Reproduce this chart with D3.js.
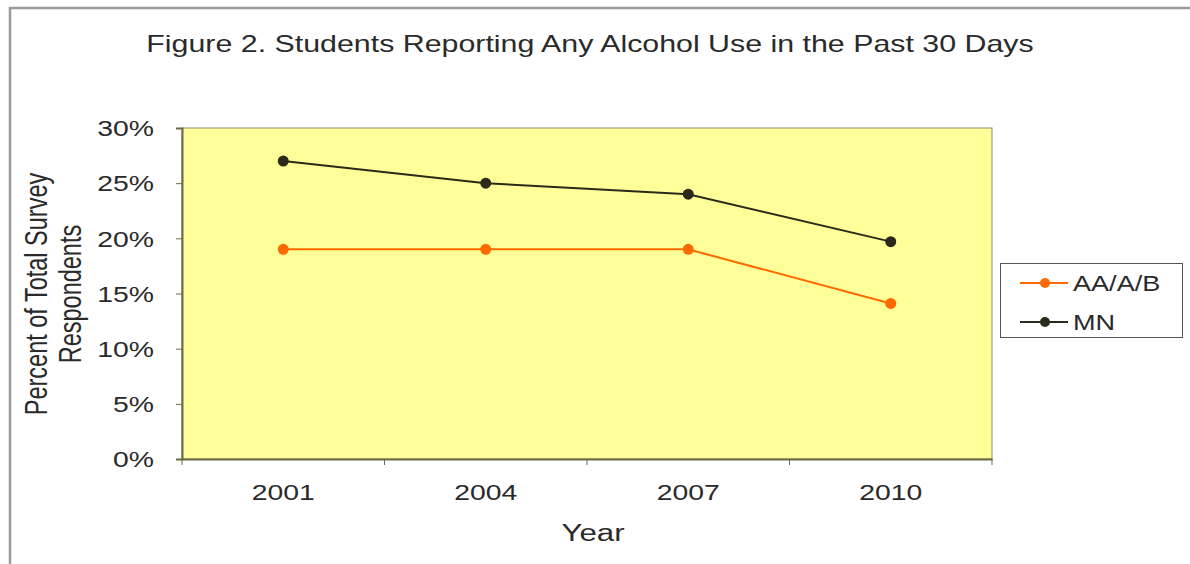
<!DOCTYPE html>
<html><head><meta charset="utf-8">
<script src="https://cdn.jsdelivr.net/npm/d3@7"></script>
<style>body{margin:0;background:#fff}svg{display:block}text{font-family:"Liberation Sans",Arial,sans-serif;fill:#2a2a2a}</style>
</head><body><svg id="c" width="1190" height="564"></svg>
<script>
const years = ["2001","2004","2007","2010"];
const seriesNames = ["AA/A/B","MN"];
const aaValues = [19, 19, 19, 14.1];
const mnValues = [27, 25, 24, 19.7];
const yTicks = [0,5,10,15,20,25,30];
const colors = ["#ff6a00","#2a2a1a"];
const SX = 1.32; // horizontal stretch of the source image's text

const svg = d3.select("#c");
svg.append("rect").attr("x",10).attr("y",8).attr("width",1200).attr("height",600)
  .attr("fill","#fff").attr("stroke","#9a9a9a").attr("stroke-width",2.5);

const L=182,R=992,T=128,B=459;
const x = d3.scaleBand().domain(years).range([L,R]);
const y = d3.scaleLinear().domain([0,30]).range([B,T]);

svg.append("rect").attr("x",L).attr("y",T).attr("width",R-L).attr("height",B-T)
  .attr("fill","#ffff99").attr("stroke","#8a8a70").attr("stroke-width",1);

// y axis
const ya = svg.append("g").attr("transform",`translate(${L},0)`)
  .call(d3.axisLeft(y).tickValues(yTicks).tickFormat(d=>d+"%").tickSize(6));
ya.select(".domain").attr("stroke","#6b6b45").attr("stroke-width",2);
ya.selectAll(".tick line").attr("stroke","#6b6b45");
ya.selectAll(".tick text").style("font-size","21.5px").attr("fill","#2a2a2a")
  .attr("x",-28/SX).attr("dy","0.36em").attr("transform",`scale(${SX},1)`);

// x axis
const xa = svg.append("g").attr("transform",`translate(0,${B})`)
  .call(d3.axisBottom(x).tickSize(0).tickPadding(26));
xa.select(".domain").attr("stroke","#6b6b45").attr("stroke-width",2);
xa.selectAll(".tick text").style("font-size","21.5px").attr("fill","#2a2a2a")
  .attr("transform",`scale(${SX},1)`);
const bounds = years.map(d=>x(d)).concat([R]);
xa.selectAll(".bt").data(bounds).enter().append("line").attr("class","bt")
  .attr("x1",d=>d).attr("x2",d=>d).attr("y1",0).attr("y2",6).attr("stroke","#6b6b45");

const cx = d=>x(d)+x.bandwidth()/2;
const data = [aaValues, mnValues];
data.forEach((vals,i)=>{
  const pts = years.map((yr,j)=>[cx(yr),y(vals[j])]);
  svg.append("path").attr("d",d3.line()(pts)).attr("fill","none")
    .attr("stroke",colors[i]).attr("stroke-width",2);
  svg.selectAll(".p"+i).data(pts).enter().append("circle")
    .attr("cx",d=>d[0]).attr("cy",d=>d[1]).attr("r",5.5).attr("fill",colors[i]);
});

// title
svg.append("text").attr("transform",`translate(590,52) scale(${SX},1)`).attr("text-anchor","middle")
  .style("font-size","23px").text("Figure 2. Students Reporting Any Alcohol Use in the Past 30 Days");
// axis titles
svg.append("text").attr("transform",`translate(593,541) scale(1.36,1)`).attr("text-anchor","middle")
  .style("font-size","23px").text("Year");
const yl = svg.append("text").attr("transform",`translate(47,294) scale(${SX},1) rotate(-90)`).attr("text-anchor","middle")
  .style("font-size","23.5px");
yl.append("tspan").attr("x",0).attr("dy",0).text("Percent of Total Survey");
yl.append("tspan").attr("x",0).attr("dy",26).text("Respondents");

// legend
svg.append("rect").attr("x",1000.5).attr("y",263.5).attr("width",182).attr("height",74)
  .attr("fill","#fff").attr("stroke","#555").attr("stroke-width",1);
seriesNames.forEach((n,i)=>{
  const ly = 283 + i*39;
  svg.append("line").attr("x1",1020).attr("x2",1068).attr("y1",ly).attr("y2",ly)
    .attr("stroke",colors[i]).attr("stroke-width",2);
  svg.append("circle").attr("cx",1045).attr("cy",ly).attr("r",5).attr("fill",colors[i]);
  svg.append("text").attr("transform",`translate(1073,${ly+8}) scale(1.26,1)`).style("font-size","21.5px").text(n);
});
</script></body></html>
